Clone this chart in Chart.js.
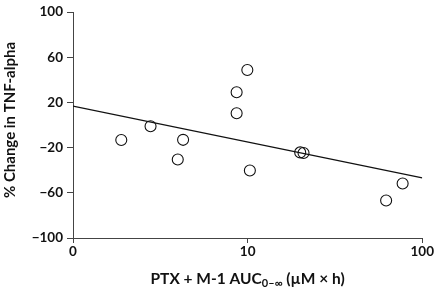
<!DOCTYPE html>
<html>
<head>
<meta charset="utf-8">
<script src="https://cdn.jsdelivr.net/npm/chart.js@4"></script>
<style>
html,body{margin:0;padding:0;background:#fff;}
#wrap{width:435px;height:292px;position:relative;}
</style>
</head>
<body>
<div id="wrap"><canvas id="c" width="435" height="292"></canvas></div>
<script>
// Data
const aucValues = [1.89, 2.78, 4.27, 3.98, 8.65, 8.65, 9.96, 10.3, 20.0, 20.9, 77.2, 62.1];
const tnfChange = [-13.3, -1.0, -13.1, -30.5, 10.5, 29.0, 48.8, -40.2, -24.2, -24.7, -51.7, -66.8];
const fitX = [1, 100];
const fitY = [16.7, -46.8];
const xTicks = [1, 10, 100];
const xTickLabels = ['0', '10', '100'];
const yTicks = [-100, -60, -20, 20, 60, 100];
const yTitle = '% Change in TNF-alpha';
const xTitleMain = 'PTX + M-1 AUC';
const xTitleSub = '0\u2013\u221E';
const xTitleEnd = ' (\u00B5M \u00D7 h)';

const FONT = 'Lato, "Open Sans", sans-serif';

const titlePlugin = {
  id: 'titles',
  afterDraw(chart) {
    const ctx = chart.ctx;
    const ca = chart.chartArea;
    ctx.save();
    ctx.fillStyle = '#111';
    // y title
    ctx.font = 'bold 15px ' + FONT;
    ctx.textAlign = 'center';
    ctx.textBaseline = 'middle';
    ctx.translate(10, 120);
    ctx.rotate(-Math.PI / 2);
    ctx.fillText(yTitle, 0, 0);
    ctx.restore();
    // x title with subscript
    ctx.save();
    ctx.fillStyle = '#111';
    ctx.textBaseline = 'alphabetic';
    ctx.textAlign = 'left';
    const mainFont = 'bold 15.5px ' + FONT;
    const subFont = 'bold 11px ' + FONT;
    ctx.font = mainFont;
    const w1 = ctx.measureText(xTitleMain).width;
    const w3 = ctx.measureText(xTitleEnd).width;
    ctx.font = subFont;
    const w2 = ctx.measureText(xTitleSub).width;
    const total = w1 + w2 + w3;
    let x = (ca.left + ca.right) / 2 - total / 2;
    const base = 284;
    ctx.font = mainFont;
    ctx.fillText(xTitleMain, x, base);
    x += w1;
    ctx.font = subFont;
    ctx.fillText(xTitleSub, x, base + 3);
    x += w2;
    ctx.font = mainFont;
    ctx.fillText(xTitleEnd, x, base);
    ctx.restore();
  }
};

new Chart(document.getElementById('c'), {
  type: 'scatter',
  data: {
    datasets: [
      {
        label: 'fit',
        type: 'line',
        data: fitX.map((x, i) => ({x: x, y: fitY[i]})),
        borderColor: '#111',
        borderWidth: 1.2,
        pointRadius: 0,
        fill: false,
        tension: 0
      },
      {
        label: 'patients',
        data: aucValues.map((x, i) => ({x: x, y: tnfChange[i]})),
        pointStyle: 'circle',
        pointRadius: 5.5,
        pointBorderWidth: 1.1,
        pointBorderColor: '#111',
        pointBackgroundColor: 'rgba(255,255,255,0)'
      }
    ]
  },
  options: {
    responsive: false,
    animation: false,
    devicePixelRatio: 1,
    layout: { padding: { top: 5, right: 12, left: 0, bottom: 0 } },
    plugins: { legend: { display: false }, tooltip: { enabled: false } },
    scales: {
      x: {
        type: 'logarithmic',
        min: 1,
        max: 100,
        afterBuildTicks(scale) { scale.ticks = xTicks.map(v => ({value: v})); },
        afterFit(scale) { scale.height = 54; },
        grid: { display: true, drawOnChartArea: false, drawTicks: true, tickLength: 5, color: '#444' },
        border: { display: true, color: '#444', width: 1 },
        ticks: {
          autoSkip: false,
          maxRotation: 0,
          padding: 1,
          color: '#111',
          font: { family: FONT, size: 13.5, weight: 'bold' },
          callback(v) { const i = xTicks.indexOf(v); return i >= 0 ? xTickLabels[i] : ''; }
        }
      },
      y: {
        min: -100,
        max: 100,
        afterBuildTicks(scale) { scale.ticks = yTicks.map(v => ({value: v})); },
        afterFit(scale) { scale.width = 73; },
        grid: { display: true, drawOnChartArea: false, drawTicks: true, tickLength: 6, color: '#444' },
        border: { display: true, color: '#444', width: 1 },
        ticks: {
          padding: 4,
          color: '#111',
          font: { family: FONT, size: 13.5, weight: 'bold' },
          callback(v) { return String(v).replace('-', '\u2212'); }
        }
      }
    }
  },
  plugins: [titlePlugin]
});
</script>
</body>
</html>
